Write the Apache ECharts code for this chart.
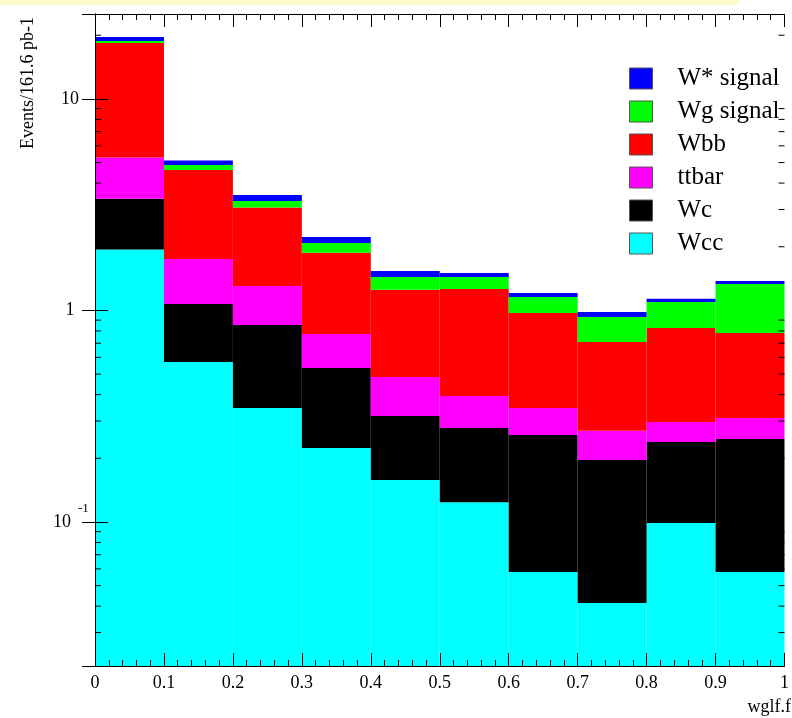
<!DOCTYPE html>
<html>
<head>
<meta charset="utf-8">
<title>wglf.f stacked</title>
<script src="https://cdn.jsdelivr.net/npm/echarts@6/dist/echarts.min.js"></script>
<style>
  html, body { margin: 0; padding: 0; background: #ffffff; }
  #chart { width: 792px; height: 718px; }
</style>
</head>
<body>
<div id="chart"></div>
<script>
// Bin edges of the wglf.f histogram
const binEdges = [0, 0.1, 0.2, 0.3, 0.4, 0.5, 0.6, 0.7, 0.8, 0.9, 1.0];

// Events per bin for each sample (stacked bottom to top: Wcc, Wc, ttbar, Wbb, Wg, W*)
const wcc         = [1.94, 0.571, 0.346, 0.224, 0.158, 0.124, 0.058, 0.0414, 0.099, 0.058];
const wc          = [1.43, 0.502, 0.508, 0.311, 0.159, 0.154, 0.200, 0.155, 0.140, 0.189];
const ttbar       = [1.91, 0.679, 0.452, 0.239, 0.168, 0.116, 0.088, 0.0738, 0.058, 0.063];
const wbb         = [13.12, 2.865, 1.757, 1.102, 0.769, 0.870, 0.627, 0.440, 0.530, 0.473];
const wgSignal    = [0.40, 0.258, 0.231, 0.209, 0.186, 0.176, 0.185, 0.222, 0.270, 0.552];
const wStarSignal = [0.84, 0.234, 0.223, 0.141, 0.097, 0.064, 0.052, 0.052, 0.040, 0.044];

// Legend / series names, top entry first
const sampleNames = ['W* signal', 'Wg signal', 'Wbb', 'ttbar', 'Wc', 'Wcc'];

// Y range of the log axis
const yMin = 0.02085;
const yMax = 25.2;

// Minor tick values on the log axis (2..9 x 10^n)
const yMinorTicks = [0.03, 0.04, 0.05, 0.06, 0.07, 0.08, 0.09,
                     0.2, 0.3, 0.4, 0.5, 0.6, 0.7, 0.8, 0.9,
                     2, 3, 4, 5, 6, 7, 8, 9, 20];

const FONT = "'Liberation Serif', 'Times New Roman', Times, 'DejaVu Serif', serif";

// Stack order (bottom first) with fill colours
const stackOrder = [
  { name: 'Wcc',       values: wcc,         color: '#00ffff' },
  { name: 'Wc',        values: wc,          color: '#000000' },
  { name: 'ttbar',     values: ttbar,       color: '#ff00ff' },
  { name: 'Wbb',       values: wbb,         color: '#ff0000' },
  { name: 'Wg signal', values: wgSignal,    color: '#00ff00' },
  { name: 'W* signal', values: wStarSignal, color: '#0000ff' }
];

// Build [x0, x1, low, high] boxes from the running sums
const running = binEdges.slice(1).map(() => 0);
const barSeries = stackOrder.map(function (s, k) {
  const data = s.values.map(function (v, i) {
    const low = k === 0 ? yMin : running[i];
    const high = running[i] + v;
    running[i] = high;
    return [binEdges[i], binEdges[i + 1], low, high];
  });
  return {
    name: s.name,
    type: 'custom',
    xAxisIndex: 0,
    yAxisIndex: 0,
    z: 2,
    itemStyle: { color: s.color, borderColor: '#444444', borderWidth: 1 },
    encode: { x: [0, 1], y: [2, 3] },
    data: data,
    renderItem: function (params, api) {
      const p0 = api.coord([api.value(0), api.value(3)]);
      const p1 = api.coord([api.value(1), api.value(2)]);
      return {
        type: 'rect',
        shape: { x: p0[0], y: p0[1], width: p1[0] - p0[0], height: p1[1] - p0[1] },
        style: { fill: s.color }
      };
    }
  };
});

// Short minor ticks on both vertical frame edges
const minorTickSeries = {
  type: 'custom',
  xAxisIndex: 0,
  yAxisIndex: 0,
  z: 10,
  silent: true,
  encode: { x: 0, y: 1 },
  data: yMinorTicks.map(v => [0, v]),
  renderItem: function (params, api) {
    const left = api.coord([0, api.value(1)]);
    const right = api.coord([1, api.value(1)]);
    const st = { stroke: '#000000', lineWidth: 1 };
    return {
      type: 'group',
      children: [
        { type: 'line', shape: { x1: left[0], y1: left[1], x2: left[0] + 6, y2: left[1] }, style: st },
        { type: 'line', shape: { x1: right[0], y1: right[1], x2: right[0] - 6, y2: right[1] }, style: st }
      ]
    };
  }
};

function isPow10(v, p) {
  return Math.abs(Math.log10(v) - p) < 1e-6;
}

const axisLineStyle = { show: true, lineStyle: { color: '#000000', width: 1 } };

const option = {
  animation: false,
  backgroundColor: '#ffffff',
  grid: { left: 95, right: 1, top: 14, bottom: 52, containLabel: false },
  graphic: [
    {
      id: 'band', type: 'rect', left: 0, top: 0, z: 0,
      shape: { width: 739, height: 5 },
      style: { fill: '#fdfccd' }
    },
    {
      id: 'ytitle', type: 'text', x: 28, y: 83, rotation: Math.PI / 2, z: 20,
      style: {
        text: 'Events/161.6 pb-1', font: '18px ' + FONT,
        fill: '#000000', align: 'center', verticalAlign: 'middle'
      }
    },
    {
      id: 'xtitle', type: 'text', right: 1, top: 698, z: 20,
      style: {
        text: 'wglf.f', font: '18px ' + FONT,
        fill: '#000000'
      }
    }
  ],
  legend: {
    orient: 'vertical',
    left: 624,
    top: 61,
    data: sampleNames,
    icon: 'rect',
    itemWidth: 23,
    itemHeight: 21,
    itemGap: 8,
    selectedMode: false,
    itemStyle: { borderColor: '#555555', borderWidth: 1 },
    textStyle: { fontFamily: FONT, fontSize: 25, color: '#000000', padding: [0, 0, 0, 20] }
  },
  xAxis: [
    {
      type: 'value', position: 'bottom', min: 0, max: 1, interval: 0.1, z: 10,
      axisLine: axisLineStyle,
      axisTick: { show: true, inside: true, length: 13, lineStyle: { color: '#000000' } },
      minorTick: { show: true, splitNumber: 5, length: 6, lineStyle: { color: '#000000' } },
      splitLine: { show: false },
      axisLabel: { color: '#000000', fontFamily: FONT, fontSize: 18, margin: 8 }
    },
    {
      type: 'value', position: 'top', min: 0, max: 1, interval: 0.1, z: 10,
      axisLine: axisLineStyle,
      axisTick: { show: true, inside: true, length: 13, lineStyle: { color: '#000000' } },
      minorTick: { show: true, splitNumber: 5, length: 6, lineStyle: { color: '#000000' } },
      splitLine: { show: false },
      axisLabel: { show: false }
    }
  ],
  yAxis: [
    {
      type: 'log', logBase: 10, position: 'left', min: yMin, max: yMax, z: 10,
      axisLine: axisLineStyle,
      axisTick: { show: true, inside: true, length: 13, lineStyle: { color: '#000000' } },
      splitLine: { show: false },
      axisLabel: {
        color: '#000000', fontFamily: FONT, fontSize: 18, margin: 25, align: 'center',
        formatter: function (v) {
          if (isPow10(v, 1)) return '10';
          if (isPow10(v, 0)) return '1';
          // room is kept on the right for the raised exponent
          if (isPow10(v, -1)) return '{b|10}{g| }';
          return '';
        },
        rich: {
          b: { fontFamily: FONT, fontSize: 18, color: '#000000' },
          g: { fontSize: 13, width: 16 }
        }
      }
    },
    {
      type: 'log', logBase: 10, position: 'right', min: yMin, max: yMax, z: 10,
      axisLine: axisLineStyle,
      axisTick: { show: true, inside: true, length: 13, lineStyle: { color: '#000000' } },
      splitLine: { show: false },
      axisLabel: { show: false }
    }
  ],
  series: barSeries.concat([minorTickSeries])
};

const chart = echarts.init(document.getElementById('chart'), null, { renderer: 'canvas' });
chart.setOption(option);

// Raised exponent of the 10^-1 label, placed from the axis scale
const tenthY = chart.convertToPixel({ yAxisIndex: 0 }, 0.1);
chart.setOption({
  graphic: [{
    id: 'expo', type: 'text', x: 78, y: tenthY - 13, z: 20,
    style: {
      text: '-1', font: '13px ' + FONT, fill: '#000000',
      align: 'left', verticalAlign: 'middle'
    }
  }]
});
</script>
</body>
</html>
